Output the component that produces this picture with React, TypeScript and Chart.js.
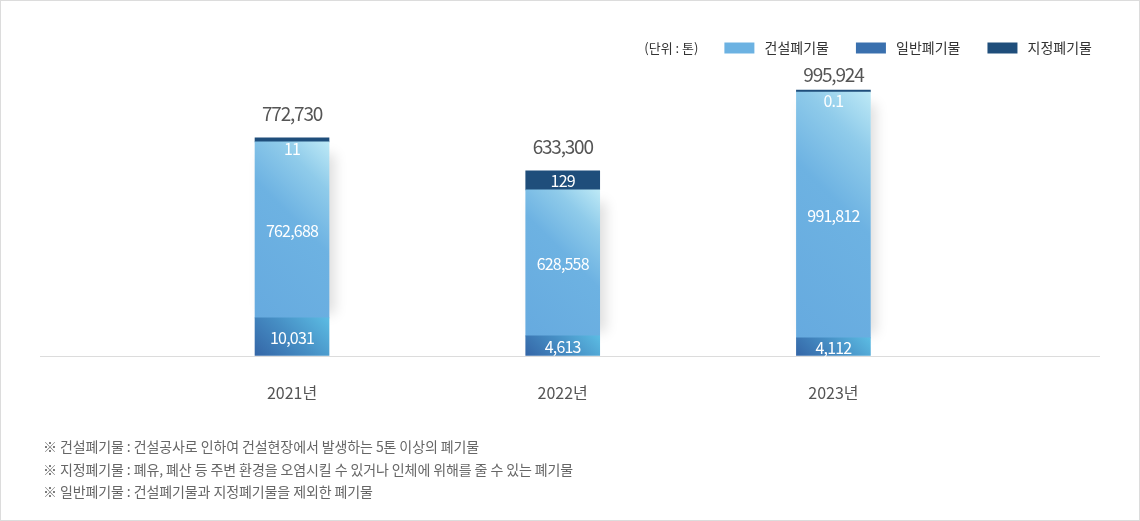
import React, { useEffect, useRef } from 'react';
import { Chart, registerables } from 'chart.js';

Chart.register(...registerables);

// ---- data ----
const years = ['2021년', '2022년', '2023년'];
const seriesNames = ['일반폐기물', '건설폐기물', '지정폐기물']; // stacking order: bottom -> top
const generalValues = [10031, 4613, 4112];
const constructionValues = [762688, 628558, 991812];
const designatedValues = [11, 129, 0.1];
const totalValues = [772730, 633300, 995924];
// the source graphic is not drawn to scale: segment sizes as drawn (drawing units)
const generalDrawn = [152, 80, 72];
const constructionDrawn = [704, 584, 984];
const designatedDrawn = [16, 76, 8];
const unitLabel = '(단위 : 톤)';
const footnotes = [
  '※ 건설폐기물 : 건설공사로 인하여 건설현장에서 발생하는 5톤 이상의 폐기물',
  '※ 지정폐기물 : 폐유, 폐산 등 주변 환경을 오염시킬 수 있거나 인체에 위해를 줄 수 있는 폐기물',
  '※ 일반폐기물 : 건설폐기물과 지정폐기물을 제외한 폐기물',
];

// ---- style ----
const FONT = '"Noto Sans CJK KR", "Noto Sans", sans-serif';
const BAR_W = 74;
const X_MIN = -0.931;
const X_MAX = 3.055;
const Y_MAX = 1164;
const legendRank = [1, 0, 2];
const flatColors = ['#3a70ae', '#6cb2e2', '#1f4e7b'];
const gradStops: [number, string][][] = [
  [[0, '#3466a7'], [0.5, '#468ec4'], [1, '#5cbce3']],
  [[0, '#66aadf'], [0.55, '#6db2e2'], [0.8, '#8fcbea'], [1, '#bde9f6']],
  [[0, '#1f4e7b'], [1, '#1f4e7b']],
];
const valueLabels = [generalValues, constructionValues, designatedValues];

const fmt = (v: number) => v.toLocaleString('en-US', { maximumFractionDigits: 1 });

function segmentFill(d: number) {
  return (ctx: any) => {
    if (ctx.type !== 'data') return flatColors[d];
    const chart = ctx.chart;
    const xs = chart.scales.x;
    const ys = chart.scales.y;
    if (!xs || !ys || !chart.chartArea) return flatColors[d];
    const i = ctx.dataIndex;
    let start = 0;
    for (let k = 0; k < d; k++) start += chart.data.datasets[k].data[i].y;
    const end = start + chart.data.datasets[d].data[i].y;
    const cx = xs.getPixelForValue(i);
    const left = cx - BAR_W / 2;
    const yb = ys.getPixelForValue(start);
    const yt = ys.getPixelForValue(end);
    const h = Math.max(1, yb - yt);
    const s = (BAR_W + h) / 2;
    const g = chart.ctx.createLinearGradient(left, yb, left + s, yb - s);
    gradStops[d].forEach(([o, c]) => g.addColorStop(o, c));
    return g;
  };
}

const decorPlugin = {
  id: 'decor',
  beforeDatasetsDraw(chart: any) {
    const ctx = chart.ctx;
    const area = chart.chartArea;
    // baseline
    ctx.save();
    ctx.strokeStyle = '#dcdcdc';
    ctx.lineWidth = 1;
    ctx.beginPath();
    ctx.moveTo(area.left, Math.round(area.bottom) + 0.5);
    ctx.lineTo(area.right - 19, Math.round(area.bottom) + 0.5);
    ctx.stroke();
    ctx.restore();
    // soft shadow beside the main segment
    const meta = chart.getDatasetMeta(1);
    meta.data.forEach((el: any) => {
      const { x, y, base, width } = el.getProps(['x', 'y', 'base', 'width'], true);
      ctx.save();
      ctx.shadowColor = 'rgba(0,0,0,0.13)';
      ctx.shadowBlur = 12;
      ctx.shadowOffsetX = 6;
      ctx.fillStyle = '#ffffff';
      ctx.fillRect(x - width / 2, y + 12, width, base - y - 16);
      ctx.restore();
    });
  },
  afterDatasetsDraw(chart: any) {
    const ctx = chart.ctx;
    const area = chart.chartArea;
    ctx.save();
    ctx.textAlign = 'center';
    ctx.textBaseline = 'middle';
    ctx.fillStyle = '#ffffff';
    ctx.font = `16px ${FONT}`;
    (ctx as any).letterSpacing = '-0.8px';
    chart.data.datasets.forEach((_ds: any, d: number) => {
      const meta = chart.getDatasetMeta(d);
      meta.data.forEach((el: any, i: number) => {
        const { x, y, base } = el.getProps(['x', 'y', 'base'], true);
        const h = base - y;
        const cy = h < 14 ? y + 9.5 : (y + base) / 2;
        ctx.fillText(fmt(valueLabels[d][i]), x, cy + 1);
      });
    });
    // totals
    const topMeta = chart.getDatasetMeta(chart.data.datasets.length - 1);
    ctx.fillStyle = '#555555';
    ctx.font = `19px ${FONT}`;
    (ctx as any).letterSpacing = '-1.2px';
    topMeta.data.forEach((el: any, i: number) => {
      const { x, y } = el.getProps(['x', 'y'], true);
      ctx.fillText(fmt(totalValues[i]), x, Math.max(y - 24, area.top + 10));
    });
    ctx.restore();
  },
  afterDraw(chart: any) {
    const ctx = chart.ctx;
    const boxes = chart.legend && chart.legend.legendHitBoxes;
    if (!boxes || !boxes.length) return;
    let first = boxes[0];
    boxes.forEach((b: any) => { if (b.left < first.left) first = b; });
    ctx.save();
    ctx.font = `13px ${FONT}`;
    ctx.fillStyle = '#333333';
    ctx.textAlign = 'right';
    ctx.textBaseline = 'middle';
    ctx.fillText(unitLabel, first.left - 26, first.top + first.height / 2);
    ctx.restore();
  },
};

export default function App() {
  const canvasRef = useRef<HTMLCanvasElement | null>(null);

  useEffect(() => {
    document.body.style.margin = '0';
    const canvas = canvasRef.current;
    if (!canvas) return;
    const drawn = [generalDrawn, constructionDrawn, designatedDrawn];
    const chart = new Chart(canvas, {
      type: 'bar',
      data: {
        datasets: seriesNames.map((name, d) => ({
          label: name,
          data: drawn[d].map((v, i) => ({ x: i, y: v })),
          backgroundColor: segmentFill(d),
          borderWidth: 0,
          barThickness: BAR_W,
        })),
      },
      options: {
        responsive: false,
        animation: false,
        events: [],
        layout: { padding: { top: 14, left: 40, right: 21, bottom: 19 } },
        plugins: {
          tooltip: { enabled: false },
          legend: {
            position: 'top',
            align: 'end',
            labels: {
              boxWidth: 30,
              boxHeight: 11,
              padding: 27,
              color: '#333333',
              font: { family: FONT, size: 14 },
              sort: (a: any, b: any) => legendRank[a.datasetIndex] - legendRank[b.datasetIndex],
              generateLabels: (chart: any) =>
                Chart.defaults.plugins.legend.labels.generateLabels(chart).map((item: any) => ({
                  ...item,
                  text: ' ' + item.text,
                  fillStyle: flatColors[item.datasetIndex],
                  strokeStyle: flatColors[item.datasetIndex],
                  lineWidth: 0,
                })),
            },
          },
        },
        scales: {
          x: {
            type: 'linear',
            min: X_MIN,
            max: X_MAX,
            offset: false,
            stacked: true,
            grid: { display: false, drawTicks: false },
            border: { display: false },
            ticks: {
              stepSize: 1,
              autoSkip: false,
              includeBounds: false,
              maxRotation: 0,
              padding: 28,
              color: '#555555',
              font: { family: FONT, size: 16 },
              callback: (v: any) => (Number.isInteger(v) && years[v] ? years[v] : ''),
            },
          },
          y: {
            display: false,
            stacked: true,
            min: 0,
            max: Y_MAX,
          },
        },
      } as any,
      plugins: [decorPlugin],
    });
    return () => chart.destroy();
  }, []);

  return (
    <div
      style={{
        position: 'relative',
        width: 1140,
        height: 521,
        boxSizing: 'border-box',
        border: '1px solid #dcdcdc',
        background: '#ffffff',
        overflow: 'hidden',
      }}
    >
      <canvas
        ref={canvasRef}
        width={1140}
        height={450}
        style={{ position: 'absolute', left: -1, top: -1, width: 1140, height: 450 }}
      />
      <div
        style={{
          position: 'absolute',
          left: 42,
          top: 434,
          fontFamily: FONT,
          fontSize: 14,
          lineHeight: '22.5px',
          letterSpacing: '-0.1px',
          color: '#666666',
          whiteSpace: 'nowrap',
        }}
      >
        {footnotes.map((t) => (
          <div key={t}>{t}</div>
        ))}
      </div>
    </div>
  );
}
